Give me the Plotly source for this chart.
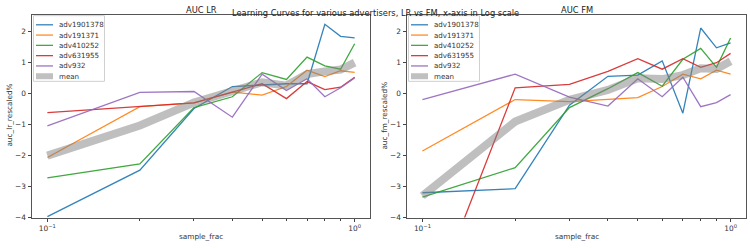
import plotly.graph_objects as go

sample_frac = [0.1, 0.2, 0.3, 0.4, 0.5, 0.6, 0.7, 0.8, 0.9, 1.0]
advertisers = ["adv1901378", "adv191371", "adv410252", "adv631955", "adv932"]

lr_adv1901378 = [-3.97, -2.47, -0.48, 0.23, 0.28, 0.32, 0.32, 2.24, 1.85, 1.80]
lr_adv191371 = [-2.06, -0.42, -0.30, 0.05, -0.05, 0.23, 0.76, 0.55, 0.74, 0.69]
lr_adv410252 = [-2.72, -2.27, -0.45, -0.10, 0.68, 0.46, 1.18, 0.90, 0.79, 1.61]
lr_adv631955 = [-0.61, -0.40, -0.30, 0.05, 0.32, -0.16, 0.39, 0.13, 0.21, 0.53]
lr_adv932 = [-1.04, 0.04, 0.07, -0.76, 0.63, 0.10, 0.48, -0.10, 0.19, 0.51]
lr_mean = [-2.0, -1.03, -0.29, 0.08, 0.37, 0.26, 0.63, 0.72, 0.78, 1.0]

fm_adv1901378 = [-3.20, -3.07, -0.37, 0.56, 0.60, 1.06, -0.63, 2.12, 1.48, 1.64]
fm_adv191371 = [-1.85, -0.19, -0.26, -0.19, -0.13, 0.23, 0.63, 0.48, 0.76, 0.63]
fm_adv410252 = [-3.34, -2.39, -0.45, 0.16, 0.68, 0.24, 1.11, 1.46, 0.85, 1.80]
fm_adv631955 = [-7.5, 0.19, 0.30, 0.72, 1.13, 0.79, 1.13, 0.85, 1.00, 1.30]
fm_adv932 = [-0.19, 0.63, -0.11, -0.40, 0.48, -0.10, 0.53, -0.42, -0.29, -0.03]
fm_mean = [-3.3, -0.9, -0.2, 0.12, 0.5, 0.47, 0.6, 0.82, 0.8, 1.05]

lr_series = [lr_adv1901378, lr_adv191371, lr_adv410252, lr_adv631955, lr_adv932]
fm_series = [fm_adv1901378, fm_adv191371, fm_adv410252, fm_adv631955, fm_adv932]

colors = ["#1f77b4", "#ff7f0e", "#2ca02c", "#d62728", "#9467bd"]
MEAN_COLOR = "#808080"
FONT = "DejaVu Sans"
W, H = 750, 248

# pixel geometry of the two axes boxes
left_box = (32, 370)
right_box = (407, 746)
top_px, bot_px = 15, 222

fig = go.Figure()

for name, ys, c in zip(advertisers, lr_series, colors):
    fig.add_trace(go.Scatter(x=sample_frac, y=ys, mode="lines", name=name,
                             line=dict(color=c, width=1.3), opacity=0.9,
                             xaxis="x", yaxis="y", showlegend=False))
fig.add_trace(go.Scatter(x=sample_frac, y=lr_mean, mode="lines", name="mean",
                         line=dict(color=MEAN_COLOR, width=8), opacity=0.5,
                         xaxis="x", yaxis="y", showlegend=False))

for name, ys, c in zip(advertisers, fm_series, colors):
    fig.add_trace(go.Scatter(x=sample_frac, y=ys, mode="lines", name=name,
                             line=dict(color=c, width=1.3), opacity=0.9,
                             xaxis="x2", yaxis="y2", showlegend=False))
fig.add_trace(go.Scatter(x=sample_frac, y=fm_mean, mode="lines", name="mean",
                         line=dict(color=MEAN_COLOR, width=8), opacity=0.5,
                         xaxis="x2", yaxis="y2", showlegend=False))

xtickvals = [0.1, 1.0]
xticktext = ["10<sup>\u22121</sup>", "10<sup>0</sup>"]
minor_vals = [0.2, 0.3, 0.4, 0.5, 0.6, 0.7, 0.8, 0.9]
ytickvals = [2, 1, 0, -1, -2, -3, -4]
yticktext = ["2", "1", "0", "\u22121", "\u22122", "\u22123", "\u22124"]

ydom = [1 - bot_px / H, 1 - top_px / H]
tickfont = dict(family=FONT, size=7.4, color="#333")

def xaxis_cfg(box, anchor):
    return dict(type="log", range=[-1.05, 0.05], domain=[box[0] / W, box[1] / W],
                anchor=anchor, tickvals=xtickvals, ticktext=xticktext,
                ticks="outside", ticklen=3.5, tickwidth=0.8, tickcolor="#444",
                minor=dict(tickvals=minor_vals, ticks="outside", ticklen=2,
                           tickwidth=0.6, tickcolor="#444"),
                showgrid=False, zeroline=False, showline=True, mirror=True,
                linecolor="#555", linewidth=1, tickfont=tickfont)

def yaxis_cfg(anchor):
    return dict(range=[-4, 2.55], domain=ydom, anchor=anchor,
                tickvals=ytickvals, ticktext=yticktext,
                ticks="outside", ticklen=3.5, tickwidth=0.8, tickcolor="#444",
                showgrid=False, zeroline=False, showline=True, mirror=True,
                linecolor="#555", linewidth=1, tickfont=tickfont)

fig.update_layout(
    width=W, height=H,
    margin=dict(l=0, r=0, t=0, b=0),
    paper_bgcolor="white", plot_bgcolor="white",
    xaxis=xaxis_cfg(left_box, "y"),
    yaxis=yaxis_cfg("x"),
    xaxis2=xaxis_cfg(right_box, "y2"),
    yaxis2=yaxis_cfg("x2"),
    font=dict(family=FONT),
    showlegend=False,
)

def px(x):
    return x / W

def py(y):
    return 1 - y / H

title_font = dict(family=FONT, size=8.3, color="#222")
label_font = dict(family=FONT, size=7.3, color="#333")
legend_font = dict(family=FONT, size=7.1, color="#333")

annos = [
    dict(text="AUC LR", x=px((left_box[0] + left_box[1]) / 2), y=py(10), font=title_font),
    dict(text="AUC FM", x=px((right_box[0] + right_box[1]) / 2), y=py(10), font=title_font),
    dict(text="Learning Curves for various advertisers, LR vs FM, x-axis in Log scale",
         x=0.5, y=py(13), font=title_font),
    dict(text="sample_frac", x=px((left_box[0] + left_box[1]) / 2), y=py(241), font=label_font),
    dict(text="sample_frac", x=px((right_box[0] + right_box[1]) / 2), y=py(241), font=label_font),
    dict(text="auc_lr_rescaled%", x=px(10), y=py(118), textangle=-90, font=label_font),
    dict(text="auc_fm_rescaled%", x=px(385), y=py(118), textangle=-90, font=label_font),
]
for a in annos:
    a.update(xanchor="center", yanchor="middle")

# hand-built legends (matplotlib style, compact)
shapes = []
legend_names = advertisers + ["mean"]
legend_colors = colors + [MEAN_COLOR]
row_y = [25.3, 35.8, 46.3, 56.8, 67.3, 77.8]
for box in (left_box, right_box):
    bx0 = box[0] + 1.5
    shapes.append(dict(type="rect", x0=px(bx0), x1=px(bx0 + 71), y0=py(16), y1=py(83),
                       line=dict(color="#d0d0d0", width=1), fillcolor="rgba(255,255,255,0.8)",
                       layer="above"))
    for i, (nm, c) in enumerate(zip(legend_names, legend_colors)):
        yy = row_y[i]
        if nm == "mean":
            shapes.append(dict(type="line", x0=px(bx0 + 2.5), x1=px(bx0 + 19.5), y0=py(yy), y1=py(yy),
                               line=dict(color="#c0c0c0", width=6), layer="above"))
        else:
            shapes.append(dict(type="line", x0=px(bx0 + 2.5), x1=px(bx0 + 19.5), y0=py(yy), y1=py(yy),
                               line=dict(color=c, width=1.3), opacity=0.9, layer="above"))
        annos.append(dict(text=nm, x=px(bx0 + 23), y=py(yy), xanchor="left", yanchor="middle",
                          font=legend_font))

for a in annos:
    a.update(xref="paper", yref="paper", showarrow=False)
for s in shapes:
    s.update(xref="paper", yref="paper")
fig.update_layout(annotations=annos, shapes=shapes)

fig.write_html("out.html")
